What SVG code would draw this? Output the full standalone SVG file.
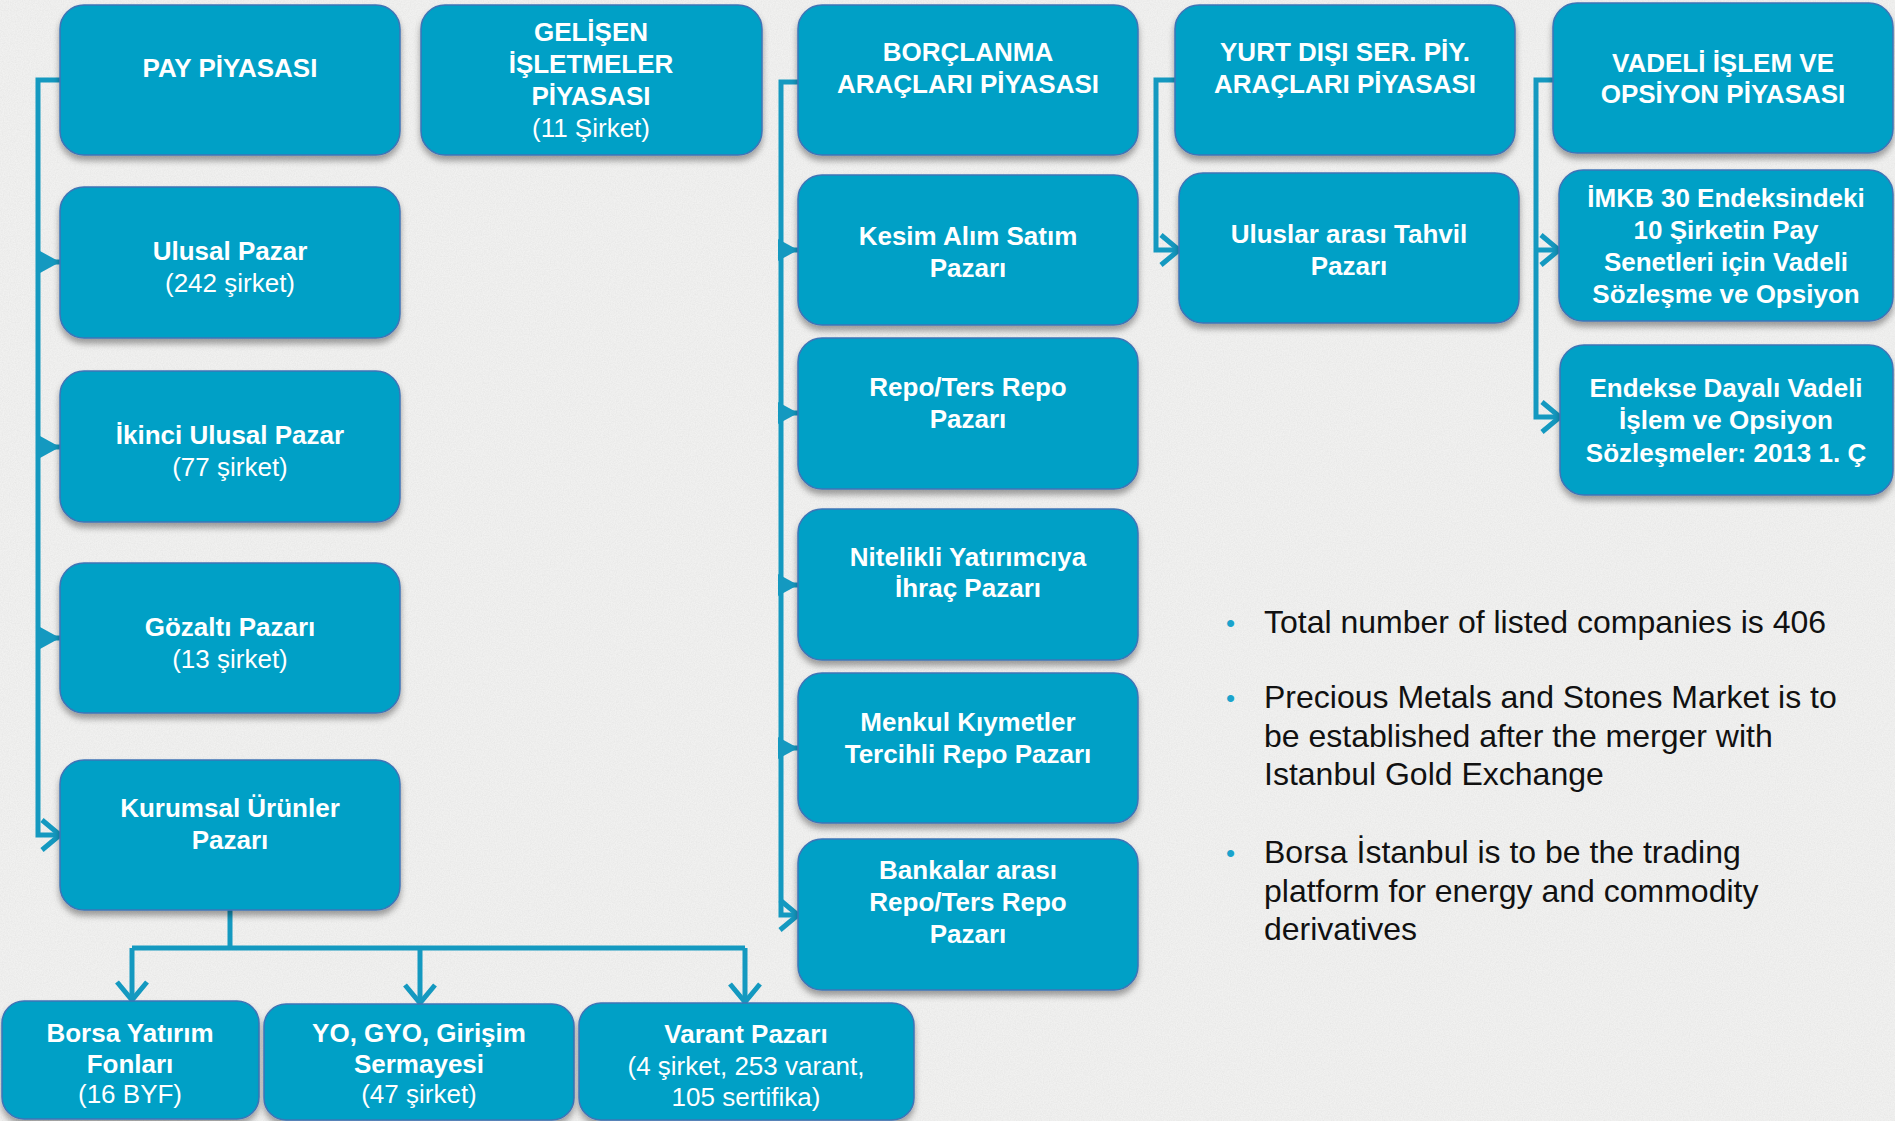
<svg xmlns="http://www.w3.org/2000/svg" width="1895" height="1121" viewBox="0 0 1895 1121">
<style>
.node rect{fill:#00a0c6;stroke:#3f74b6;stroke-width:1.5;filter:url(#sh)}
.node text{font-family:"Liberation Sans",Arial,sans-serif;font-size:26px;fill:#ffffff;text-anchor:middle;font-weight:bold}
.node text.r{font-weight:normal}
.conn path{fill:none;stroke:#1499c0;stroke-width:5}
.bul{font-family:"Liberation Sans",Arial,sans-serif;font-size:32px;fill:#111111}
.dot{font-family:"Liberation Sans",Arial,sans-serif;font-size:26px;fill:#1aa3cc}
</style>
<defs>
<filter id="sh" x="-10%" y="-10%" width="120%" height="130%">
<feDropShadow dx="0" dy="5" stdDeviation="3" flood-color="#000" flood-opacity="0.35"/>
</filter>
<filter id="noise" x="0" y="0" width="100%" height="100%">
<feTurbulence type="fractalNoise" baseFrequency="0.85" numOctaves="2" seed="4"/>
<feColorMatrix type="matrix" values="0 0 0 0 0.55 0 0 0 0 0.55 0 0 0 0 0.55 0 0 0 0.35 -0.1"/>
</filter>
<marker id="tri" viewBox="0 0 20 22" refX="20" refY="11" markerWidth="20" markerHeight="22" orient="auto" markerUnits="userSpaceOnUse">
<path d="M0,0 L20,11 L0,22 Z" fill="#1499c0"/>
</marker>
<marker id="chev" viewBox="0 0 24 36" refX="20" refY="18" markerWidth="24" markerHeight="36" orient="auto" markerUnits="userSpaceOnUse">
<path d="M2,3 L20,18 L2,33" fill="none" stroke="#1499c0" stroke-width="5"/>
</marker>
</defs>
<rect x="0" y="0" width="1895" height="1121" fill="#f1f1f0"/>
<rect x="0" y="0" width="1895" height="1121" filter="url(#noise)"/>

<g class="conn">
<path d="M62,80 H38 V835 H60" marker-end="url(#chev)"/>
<path d="M38,262 H60" marker-end="url(#tri)"/>
<path d="M38,447 H60" marker-end="url(#tri)"/>
<path d="M38,638 H60" marker-end="url(#tri)"/>
<path d="M800,82 H781 V915 H798" marker-end="url(#chev)"/>
<path d="M781,250 H798" marker-end="url(#tri)"/>
<path d="M781,413 H798" marker-end="url(#tri)"/>
<path d="M781,585 H798" marker-end="url(#tri)"/>
<path d="M781,748 H798" marker-end="url(#tri)"/>
<path d="M1177,80 H1156 V250 H1179" marker-end="url(#chev)"/>
<path d="M1555,80 H1536 V417 H1560" marker-end="url(#chev)"/>
<path d="M1536,250 H1559" marker-end="url(#chev)"/>
<path d="M230,910 V948 M132,948 H745"/>
<path d="M132,948 V1000" marker-end="url(#chev)"/>
<path d="M420,948 V1003" marker-end="url(#chev)"/>
<path d="M745,948 V1002" marker-end="url(#chev)"/>
</g>

<g id="pay" class="node"><rect x="60" y="5" width="340" height="150" rx="24"/><text x="230" y="77">PAY PİYASASI</text></g>
<g id="gelisen" class="node"><rect x="421" y="5" width="341" height="150" rx="24"/><text x="591" y="41">GELİŞEN</text><text x="591" y="73">İŞLETMELER</text><text x="591" y="105">PİYASASI</text><text x="591" y="137" class="r">(11 Şirket)</text></g>
<g id="borclanma" class="node"><rect x="798" y="5" width="340" height="150" rx="24"/><text x="968" y="61">BORÇLANMA</text><text x="968" y="93">ARAÇLARI PİYASASI</text></g>
<g id="yurtdisi" class="node"><rect x="1175" y="5" width="340" height="150" rx="24"/><text x="1345" y="61">YURT DIŞI SER. PİY.</text><text x="1345" y="93">ARAÇLARI PİYASASI</text></g>
<g id="vadeli" class="node"><rect x="1553" y="3" width="340" height="150" rx="24"/><text x="1723" y="72">VADELİ İŞLEM VE</text><text x="1723" y="103">OPSİYON PİYASASI</text></g>

<g id="ulusal" class="node"><rect x="60" y="187" width="340" height="151" rx="24"/><text x="230" y="260">Ulusal Pazar</text><text x="230" y="292" class="r">(242 şirket)</text></g>
<g id="ikinci" class="node"><rect x="60" y="371" width="340" height="151" rx="24"/><text x="230" y="444">İkinci Ulusal Pazar</text><text x="230" y="476" class="r">(77 şirket)</text></g>
<g id="gozalti" class="node"><rect x="60" y="563" width="340" height="150" rx="24"/><text x="230" y="636">Gözaltı Pazarı</text><text x="230" y="668" class="r">(13 şirket)</text></g>
<g id="kurumsal" class="node"><rect x="60" y="760" width="340" height="150" rx="24"/><text x="230" y="817">Kurumsal Ürünler</text><text x="230" y="849">Pazarı</text></g>

<g id="kesim" class="node"><rect x="798" y="175" width="340" height="150" rx="24"/><text x="968" y="245">Kesim Alım Satım</text><text x="968" y="277">Pazarı</text></g>
<g id="repo" class="node"><rect x="798" y="338" width="340" height="151" rx="24"/><text x="968" y="396">Repo/Ters Repo</text><text x="968" y="428">Pazarı</text></g>
<g id="nitelikli" class="node"><rect x="798" y="509" width="340" height="151" rx="24"/><text x="968" y="566">Nitelikli Yatırımcıya</text><text x="968" y="597">İhraç Pazarı</text></g>
<g id="menkul" class="node"><rect x="798" y="673" width="340" height="150" rx="24"/><text x="968" y="731">Menkul Kıymetler</text><text x="968" y="763">Tercihli Repo Pazarı</text></g>
<g id="bankalar" class="node"><rect x="798" y="839" width="340" height="151" rx="24"/><text x="968" y="879">Bankalar arası</text><text x="968" y="911">Repo/Ters Repo</text><text x="968" y="943">Pazarı</text></g>

<g id="uluslararasi" class="node"><rect x="1179" y="173" width="340" height="150" rx="24"/><text x="1349" y="243">Uluslar arası Tahvil</text><text x="1349" y="275">Pazarı</text></g>
<g id="imkb" class="node"><rect x="1559" y="170" width="334" height="151" rx="24"/><text x="1726" y="207">İMKB 30 Endeksindeki</text><text x="1726" y="239">10 Şirketin Pay</text><text x="1726" y="271">Senetleri için Vadeli</text><text x="1726" y="303">Sözleşme ve Opsiyon</text></g>
<g id="endekse" class="node"><rect x="1560" y="345" width="333" height="150" rx="24"/><text x="1726" y="397">Endekse Dayalı Vadeli</text><text x="1726" y="429">İşlem ve Opsiyon</text><text x="1726" y="462">Sözleşmeler: 2013 1. Ç</text></g>

<g id="byf" class="node"><rect x="2" y="1001" width="257" height="118" rx="22"/><text x="130" y="1042">Borsa Yatırım</text><text x="130" y="1073">Fonları</text><text x="130" y="1103" class="r">(16 BYF)</text></g>
<g id="yo" class="node"><rect x="264" y="1004" width="310" height="116" rx="22"/><text x="419" y="1042">YO, GYO, Girişim</text><text x="419" y="1073">Sermayesi</text><text x="419" y="1103" class="r">(47 şirket)</text></g>
<g id="varant" class="node"><rect x="579" y="1003" width="335" height="117" rx="22"/><text x="746" y="1043">Varant Pazarı</text><text x="746" y="1075" class="r">(4 şirket, 253 varant,</text><text x="746" y="1106" class="r">105 sertifika)</text></g>

<g id="notes">
<text class="dot" x="1226" y="632">•</text>
<text class="bul" x="1264" y="633">Total number of listed companies is 406</text>
<text class="dot" x="1226" y="707">•</text>
<text class="bul" x="1264" y="708">Precious Metals and Stones Market is to</text>
<text class="bul" x="1264" y="747">be established after the merger with</text>
<text class="bul" x="1264" y="785">Istanbul Gold Exchange</text>
<text class="dot" x="1226" y="862">•</text>
<text class="bul" x="1264" y="863">Borsa İstanbul is to be the trading</text>
<text class="bul" x="1264" y="902">platform for energy and commodity</text>
<text class="bul" x="1264" y="940">derivatives</text>
</g>
</svg>
